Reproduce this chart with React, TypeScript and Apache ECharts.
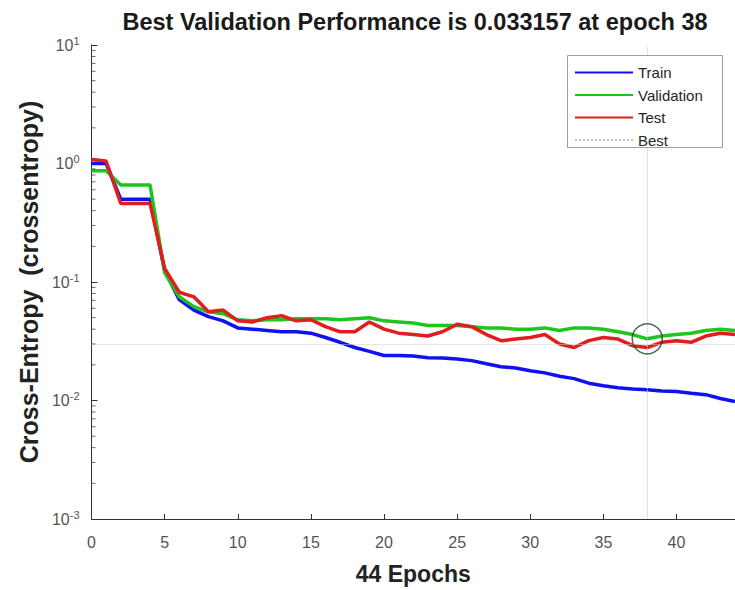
import React, { useEffect, useRef } from "react";
import * as echarts from "echarts";

const epochs = [0, 1, 2, 3, 4, 5, 6, 7, 8, 9, 10, 11, 12, 13, 14, 15, 16, 17, 18, 19, 20, 21, 22, 23, 24, 25, 26, 27, 28, 29, 30, 31, 32, 33, 34, 35, 36, 37, 38, 39, 40, 41, 42, 43, 44];

const trainLoss = [1.0, 1.0, 0.5, 0.5, 0.5, 0.125, 0.071, 0.058, 0.051, 0.047, 0.041, 0.04, 0.039, 0.038, 0.038, 0.037, 0.034, 0.031, 0.028, 0.026, 0.024, 0.024, 0.0237, 0.023, 0.0228, 0.0224, 0.0217, 0.0204, 0.0193, 0.0188, 0.0178, 0.0171, 0.016, 0.0153, 0.014, 0.0133, 0.0128, 0.0125, 0.0123, 0.012, 0.0119, 0.0115, 0.0112, 0.0104, 0.0098];

const validationLoss = [0.87, 0.87, 0.66, 0.66, 0.66, 0.12, 0.075, 0.062, 0.056, 0.054, 0.048, 0.047, 0.048, 0.048, 0.049, 0.049, 0.049, 0.048, 0.049, 0.05, 0.047, 0.046, 0.045, 0.043, 0.043, 0.043, 0.042, 0.041, 0.041, 0.04, 0.04, 0.041, 0.039, 0.041, 0.041, 0.04, 0.038, 0.036, 0.033157, 0.035, 0.036, 0.037, 0.039, 0.04, 0.039];

const testLoss = [1.08, 1.05, 0.46, 0.46, 0.46, 0.13, 0.082, 0.075, 0.056, 0.058, 0.047, 0.046, 0.05, 0.052, 0.047, 0.048, 0.042, 0.038, 0.038, 0.046, 0.04, 0.037, 0.036, 0.035, 0.038, 0.044, 0.042, 0.036, 0.032, 0.033, 0.034, 0.036, 0.03, 0.028, 0.032, 0.034, 0.033, 0.029, 0.028, 0.031, 0.032, 0.031, 0.035, 0.037, 0.036];

const bestEpoch = 38;
const bestValue = 0.033157;

const decades = [0.001, 0.01, 0.1, 1];
const minorFactors = [2, 3, 4, 5, 6, 7, 8, 9];

const titleText = "Best Validation Performance is 0.033157 at epoch 38";
const xName = "44 Epochs";
const yName = "Cross-Entropy  (crossentropy)";
const legendNames = ["Train", "Validation", "Test", "Best"];

const FONT = "'Liberation Sans', Arial, Helvetica, sans-serif";

export default function App() {
  const ref = useRef<HTMLDivElement>(null);

  useEffect(() => {
    if (!ref.current) return;
    const chart = echarts.init(ref.current, null, { renderer: "svg" });

    const zip = (arr: number[]) => epochs.map((e, i) => [e, arr[i]]);
    const minorTicks: number[][] = [];
    decades.forEach((d) => minorFactors.forEach((f) => minorTicks.push([0, d * f])));

    const option: any = {
      animation: false,
      backgroundColor: "#ffffff",
      textStyle: { fontFamily: FONT },
      grid: { left: 91.5, top: 45, width: 646, height: 479, containLabel: false },
      legend: {
        data: legendNames,
        orient: "vertical",
        left: 574,
        top: 65,
        padding: 0,
        itemWidth: 58,
        itemHeight: 14,
        itemGap: 7.5,
        z: 60,
        selectedMode: false,
        itemStyle: { opacity: 0 },
        textStyle: { fontSize: 15, color: "#262626", fontFamily: FONT, lineHeight: 14 },
      },
      graphic: [
        {
          type: "rect",
          z: 50,
          shape: { x: 567.5, y: 55.5, width: 155, height: 92 },
          style: { fill: "#ffffff", stroke: "#a0a0a0", lineWidth: 1 },
        },
        {
          type: "text",
          x: 415,
          y: 22,
          style: {
            text: titleText,
            font: `bold 23.5px ${FONT}`,
            fill: "#1a1a1a",
            textAlign: "center",
            textVerticalAlign: "middle",
          },
        },
      ],
      xAxis: {
        type: "value",
        min: 0,
        max: 44,
        interval: 5,
        name: xName,
        nameLocation: "middle",
        nameGap: 43,
        nameTextStyle: { fontSize: 23, fontWeight: "bold", color: "#222", fontFamily: FONT },
        axisLine: { show: true, onZero: false, lineStyle: { color: "#333", width: 1 } },
        axisTick: { show: true, inside: true, length: 5, lineStyle: { color: "#333" } },
        axisLabel: { fontSize: 16, color: "#555", margin: 15, showMaxLabel: false, fontFamily: FONT },
        splitLine: { show: false },
      },
      yAxis: {
        type: "log",
        logBase: 10,
        min: 0.001,
        max: 10,
        interval: 1,
        name: yName,
        nameLocation: "middle",
        nameGap: 47,
        nameTextStyle: { fontSize: 25, fontWeight: "bold", color: "#222", fontFamily: FONT },
        axisLine: { show: true, lineStyle: { color: "#333", width: 1 } },
        axisTick: { show: true, inside: true, length: 6, lineStyle: { color: "#333" } },
        minorTick: { show: false },
        axisLabel: {
          margin: 12,
          formatter: (v: number) => {
            const e = Math.round(Math.log10(v));
            return `{b|10}{s|${e}}`;
          },
          rich: {
            b: { fontSize: 16, color: "#555", lineHeight: 20, fontFamily: FONT },
            s: { fontSize: 11, color: "#555", lineHeight: 12, verticalAlign: "top", fontFamily: FONT },
          },
        },
        splitLine: { show: false },
      },
      series: [
        {
          name: "Best",
          type: "line",
          data: [],
          symbol: "none",
          lineStyle: { color: "#c0c0c0", width: 1, type: "dotted" },
          itemStyle: { color: "#c0c0c0" },
          markLine: {
            silent: true,
            symbol: "none",
            label: { show: false },
            lineStyle: { color: "#cfcfcf", width: 1, type: "dotted" },
            data: [{ xAxis: bestEpoch }, { yAxis: bestValue }],
          },
        },
        {
          name: "Train",
          type: "line",
          data: zip(trainLoss),
          symbol: "none",
          lineStyle: { color: "#1010f0", width: 3.5 },
          itemStyle: { color: "#1010f0" },
          z: 3,
        },
        {
          name: "Validation",
          type: "line",
          data: zip(validationLoss),
          symbol: "none",
          lineStyle: { color: "#1fc41f", width: 3.5 },
          itemStyle: { color: "#1fc41f" },
          z: 3,
        },
        {
          name: "Test",
          type: "line",
          data: zip(testLoss),
          symbol: "none",
          lineStyle: { color: "#e01e1e", width: 3.5 },
          itemStyle: { color: "#e01e1e" },
          z: 4,
        },
        {
          name: "bestCircle",
          type: "scatter",
          data: [[bestEpoch, bestValue]],
          symbol: "circle",
          symbolSize: 30,
          silent: true,
          itemStyle: { color: "rgba(0,0,0,0)", borderColor: "#1f4a1f", borderWidth: 1.5 },
          z: 5,
        },
        {
          name: "minorTicks",
          type: "scatter",
          data: minorTicks,
          symbol: "rect",
          symbolSize: [4, 1],
          symbolOffset: [2, 0],
          silent: true,
          clip: false,
          itemStyle: { color: "#444" },
          z: 5,
        },
      ],
    };

    chart.setOption(option);
    return () => chart.dispose();
  }, []);

  return (
    <div
      ref={ref}
      style={{ position: "fixed", left: 0, top: 0, width: 735, height: 590, background: "#fff" }}
    />
  );
}
